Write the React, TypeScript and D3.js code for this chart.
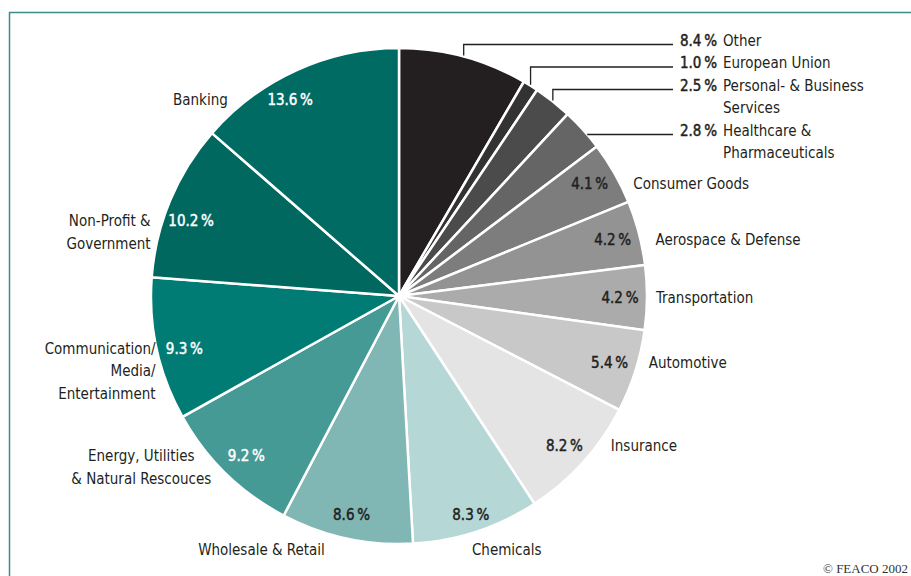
import React from 'react';
import * as d3 from 'd3';

const categories = [
  'Other',
  'European Union',
  'Personal- & Business\nServices',
  'Healthcare &\nPharmaceuticals',
  'Consumer Goods',
  'Aerospace & Defense',
  'Transportation',
  'Automotive',
  'Insurance',
  'Chemicals',
  'Wholesale & Retail',
  'Energy, Utilities\n& Natural Rescouces',
  'Communication/\nMedia/\nEntertainment',
  'Non-Profit &\nGovernment',
  'Banking',
];
const shares = [8.4, 1.0, 2.5, 2.8, 4.1, 4.2, 4.2, 5.4, 8.2, 8.3, 8.6, 9.2, 9.3, 10.2, 13.6];
const fills = [
  '#231f20', '#333333', '#4b4b4b', '#656565', '#7d7d7d', '#939393', '#ababab',
  '#c8c8c8', '#e4e4e4', '#b5d7d6', '#80b6b4', '#459a96', '#007c75', '#00685f', '#006b63',
];
const whiteText = [false, false, false, false, false, false, false, false, false, false, false, true, true, true, true];

// label layout hints: 'leader' = callout at top right; 'side' = beside pie edge; 'below' = under the pie
type Hint = { mode: 'leader' | 'side' | 'below'; anchor?: 'start' | 'end' | 'middle'; gap?: number; dx?: number; rOff?: number; aOff?: number };
const hints: Hint[] = [
  { mode: 'leader' },
  { mode: 'leader' },
  { mode: 'leader' },
  { mode: 'leader' },
  { mode: 'side', anchor: 'start', gap: 13, aOff: -0.012 },
  { mode: 'side', anchor: 'start', gap: 15 },
  { mode: 'side', anchor: 'start', gap: 9 },
  { mode: 'side', anchor: 'start', gap: 11 },
  { mode: 'side', anchor: 'start', gap: 14, rOff: 2 },
  { mode: 'below', dx: 36, rOff: 9 },
  { mode: 'below', dx: -90, rOff: 3 },
  { mode: 'side', anchor: 'middle', gap: 68, aOff: -0.01 },
  { mode: 'side', anchor: 'end', gap: 1, aOff: -0.023 },
  { mode: 'side', anchor: 'end', gap: 12, aOff: -0.05 },
  { mode: 'side', anchor: 'end', gap: 19, rOff: 3, aOff: -0.08 },
];

const W = 911;
const H = 576;
const cx = 399;
const cy = 296;
const R = 248;
const labelR = 221;
const lineH = 22.5;
const fs = 15;
const font = "'DejaVu Sans Condensed', 'Liberation Sans Narrow', sans-serif";
const ink = '#231f20';

const fmt = (v: number) => `${v.toFixed(1)}\u2009%`;

export default function App() {
  const pie = d3.pie<number>().sort(null).value((d) => d);
  const arcs = pie(shares);
  const arc = d3.arc<d3.PieArcDatum<number>>().innerRadius(0).outerRadius(R);

  const edgeX = (y: number, side: number) => cx + side * Math.sqrt(Math.max(0, R * R - (y - cy) * (y - cy)));

  const leaderEndX = 673;
  const numX = leaderEndX + 7;
  const nameX = numX + 43;
  let row = 0;
  const firstRowY = 44.5;

  const elements: React.ReactNode[] = [];
  arcs.forEach((a, i) => {
    const hint = hints[i];
    const lines = categories[i].split('\n');
    const mid = (a.startAngle + a.endAngle) / 2;
    if (hint.mode === 'leader') {
      const ly = firstRowY + row * lineH;
      row += lines.length;
      const ex = cx + R * Math.sin(mid);
      const ey = cy - R * Math.cos(mid);
      let d: string;
      if (ey > ly) {
        d = `M${ex},${ey - 1}V${ly}H${leaderEndX}`;
      } else {
        d = `M${edgeX(ly, 1)},${ly}H${leaderEndX}`;
      }
      elements.push(<path key={'l' + i} d={d} fill="none" stroke={ink} strokeWidth={1.3} />);
      elements.push(
        <text key={'n' + i} x={numX} y={ly + 1} fontSize={fs} fill={ink} stroke={ink} strokeWidth={0.45}>
          {fmt(shares[i])}
        </text>
      );
      elements.push(
        <text key={'t' + i} x={nameX} y={ly + 1} fontSize={fs} fill={ink}>
          {lines.map((s, k) => (
            <tspan key={k} x={nameX} dy={k === 0 ? 0 : lineH}>{s}</tspan>
          ))}
        </text>
      );
      return;
    }
    const lr = labelR + (hint.rOff || 0);
    const la = mid + (hint.aOff || 0);
    const tx = cx + lr * Math.sin(la);
    const ty = cy - lr * Math.cos(la);
    const pc = whiteText[i] ? '#ffffff' : ink;
    elements.push(
      <text key={'p' + i} x={tx} y={ty} dy="0.35em" textAnchor="middle" fontSize={fs} fill={pc} stroke={pc} strokeWidth={0.45}>
        {fmt(shares[i])}
      </text>
    );
    if (hint.mode === 'side') {
      const side = Math.sin(mid) >= 0 ? 1 : -1;
      const x = edgeX(ty, side) + side * (hint.gap || 0);
      elements.push(
        <text key={'t' + i} x={x} y={ty} textAnchor={hint.anchor} fontSize={fs} fill={ink}>
          {lines.map((s, k) => (
            <tspan key={k} x={x} dy={k === 0 ? '0.35em' : lineH}>{s}</tspan>
          ))}
        </text>
      );
    } else {
      const x = tx + (hint.dx || 0);
      elements.push(
        <text key={'t' + i} x={x} y={cy + R + 11} textAnchor="middle" fontSize={fs} fill={ink}>
          {lines[0]}
        </text>
      );
    }
  });

  return (
    <svg width={W} height={H} style={{ position: 'absolute', left: 0, top: 0, fontFamily: font }}>
      <rect width={W} height={H} fill="#ffffff" />
      <path d={`M9.5,${H}V12.5H${W}`} fill="none" stroke="#3b8c87" strokeWidth={1.5} />
      <g transform={`translate(${cx},${cy})`}>
        {arcs.map((a, i) => (
          <path key={i} d={arc(a) || ''} fill={fills[i]} stroke="#ffffff" strokeWidth={2.5} strokeLinejoin="round" />
        ))}
      </g>
      {elements}
      <text x={908} y={573} textAnchor="end" fontSize={13} fill="#333" fontFamily="'Liberation Serif', 'DejaVu Serif', serif">
        © FEACO 2002
      </text>
    </svg>
  );
}
